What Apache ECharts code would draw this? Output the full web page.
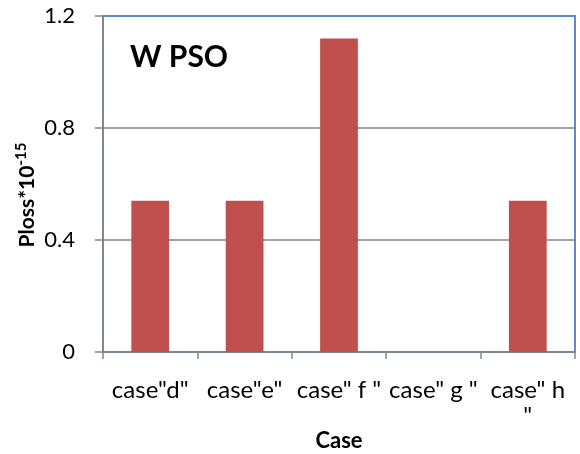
<!DOCTYPE html>
<html>
<head>
<meta charset="utf-8">
<script src="https://cdn.jsdelivr.net/npm/echarts@6/dist/echarts.min.js"></script>
<style>
  html, body { margin: 0; padding: 0; background: #fff; }
  #chart { width: 580px; height: 454px; }
</style>
</head>
<body>
<div id="chart"></div>
<script>
// Power loss per test case for the W PSO run
const categories = ['case"d"', 'case"e"', 'case" f "', 'case" g "', 'case" h\n"'];
const plossValues = [0.54, 0.54, 1.12, 0, 0.54];
const yTicks = { min: 0, max: 1.2, interval: 0.4 };

const FONT = 'Lato, "Open Sans", sans-serif';
const GRAY = '#868686';
const BLUE = '#5b8bc9';

const chart = echarts.init(document.getElementById('chart'));
chart.setOption({
  animation: false,
  backgroundColor: '#fff',
  graphic: [
    {
      type: 'text',
      left: 130,
      top: 42,
      style: { text: 'W PSO', font: 'bold 30px ' + FONT, fill: '#000' }
    },
    {
      // rotated axis title with a superscript exponent
      type: 'text',
      x: 27,
      y: 195,
      rotation: Math.PI / 2,
      style: {
        text: '{b|Ploss*10}{s|-15}',
        align: 'center',
        verticalAlign: 'middle',
        rich: {
          b: { fontFamily: FONT, fontWeight: 'bold', fontSize: 21, fill: '#000', lineHeight: 26 },
          s: { fontFamily: FONT, fontWeight: 'bold', fontSize: 15, fill: '#000', lineHeight: 26, padding: [0, 0, 12, 0] }
        }
      }
    }
  ],
  grid: {
    left: 103, right: 5, top: 16, bottom: 102,
    outerBoundsMode: 'none',
    containLabel: false,
    show: true, borderColor: BLUE, borderWidth: 2, backgroundColor: '#fff'
  },
  xAxis: {
    type: 'category',
    data: categories,
    name: 'Case',
    nameLocation: 'middle',
    nameGap: 78,
    nameMoveOverlap: false,
    nameTextStyle: { fontFamily: FONT, fontWeight: 'bold', fontSize: 22, color: '#000' },
    axisLine: { lineStyle: { color: GRAY, width: 1.5 } },
    axisTick: { show: true, length: 7, lineStyle: { color: GRAY, width: 1.5 } },
    axisLabel: { fontFamily: FONT, fontSize: 24, color: '#000', margin: 25, lineHeight: 26, interval: 0 },
    splitLine: { show: false }
  },
  yAxis: {
    type: 'value',
    min: yTicks.min,
    max: yTicks.max,
    interval: yTicks.interval,
    axisLine: { show: true, lineStyle: { color: GRAY, width: 1.5 } },
    axisTick: { show: true, length: 8, lineStyle: { color: GRAY, width: 1.5 } },
    axisLabel: {
      fontFamily: FONT, fontSize: 22, color: '#000', margin: 28,
      formatter: v => (v === 0 ? '0' : v.toFixed(1))
    },
    splitLine: { show: true, showMinLine: false, showMaxLine: false, lineStyle: { color: GRAY, width: 1.5 } }
  },
  series: [{
    type: 'bar',
    data: plossValues,
    barWidth: '40%',
    itemStyle: { color: '#c0504d' }
  }]
});
</script>
</body>
</html>
